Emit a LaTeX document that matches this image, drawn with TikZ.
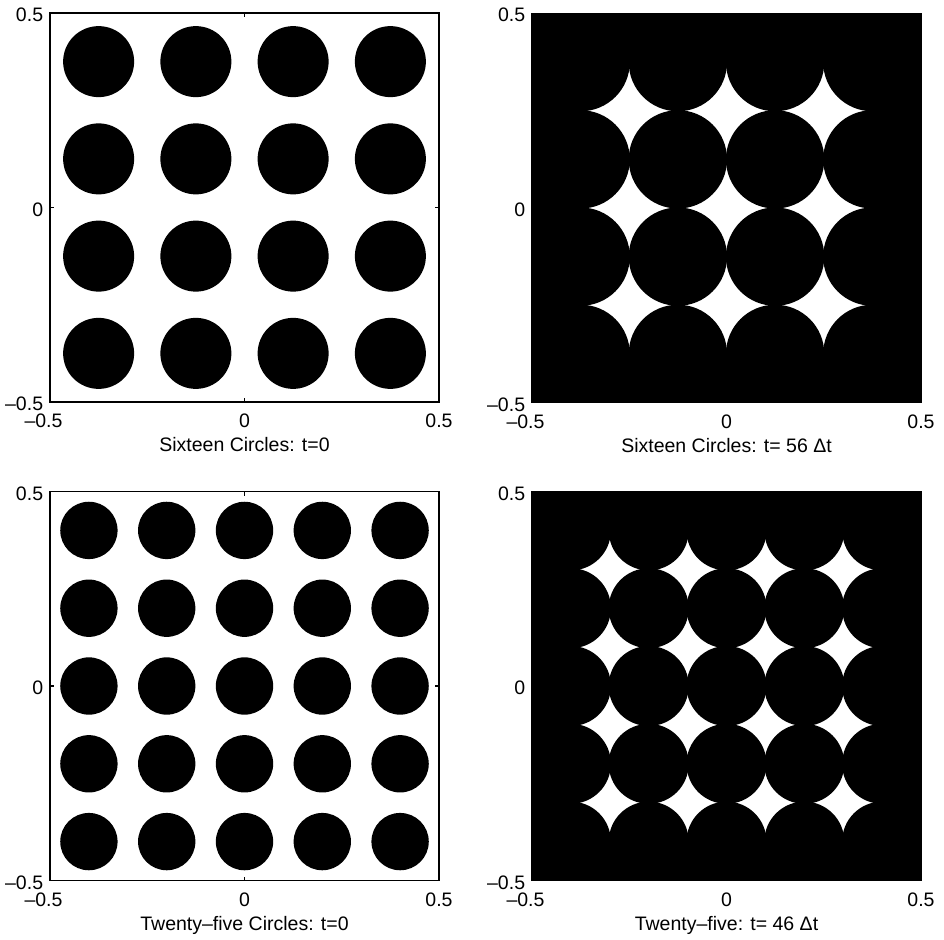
\documentclass[tikz,border=0pt]{standalone}
\usepackage{fontspec}
\setmainfont{Liberation Sans}
\begin{document}
\begin{tikzpicture}[x=1pt,y=1pt,
  lbl/.style={inner sep=0pt,font=\fontsize{19.5}{23}\selectfont},
  axbox/.style={line width=1.3pt,line join=miter},
  tick/.style={line width=1.1pt}]
\useasboundingbox (0,0) rectangle (944,-939);
% ---------- helper: axes labels and box ----------
\newcommand{\axlabels}[3]{% #1 = center x, #2 = center y (negative), #3 = prefix
  % y tick labels
  \node[lbl,anchor=base east] (#3yt) at (#1-201.2,#2+194.5-8.5) {0.5};
  \node[lbl,anchor=base east] (#3yz) at (#1-201.2,#2-8.5) {0};
  \node[lbl,anchor=base east] (#3yb) at (#1-201.2,#2-194.5-8.5) {–0.5};
  % x tick labels
  \node[lbl,anchor=base east] (#3xl) at (#1-181.8,#2-194.5-25.8) {–0.5};
  \node[lbl,anchor=base] (#3xz) at (#1,#2-194.5-25.8) {0};
  \node[lbl,anchor=base] (#3xr) at (#1+194.5,#2-194.5-25.8) {0.5};
}
\newcommand{\axframe}[2]{%
  \draw[axbox] (#1-194.5,#2-194.5) rectangle (#1+194.5,#2+194.5);
  \draw[tick] (#1,#2-194.5) -- ++(0,4) (#1,#2+194.5) -- ++(0,-4)
              (#1-194.5,#2) -- ++(4,0) (#1+194.5,#2) -- ++(-4,0);
}
% ================= Panel 1 =================
\begin{scope}[shift={(244.5pt,-207.5pt)},x=389pt,y=389pt]
  \clip (-0.5,-0.5) rectangle (0.5,0.5);
  \foreach \i in {-0.375,-0.125,0.125,0.375}
    \foreach \j in {-0.375,-0.125,0.125,0.375}
      \fill[black] (\i,\j) circle (0.0913);
\end{scope}
\axframe{244.5}{-207.5}
\axlabels{244.5}{-207.5}{a}
\node[lbl,anchor=base] (atitle) at (244.5,-451.5) {Sixteen Circles: t=0};
% ================= Panel 2 =================
\begin{scope}[shift={(726.5pt,-208pt)},x=389pt,y=389pt]
  \clip (-0.5,-0.5) rectangle (0.5,0.5);
  \fill[black] (-0.5,-0.5) rectangle (0.5,0.5);
  \fill[white] (-0.375,-0.375) rectangle (0.375,0.375);
  \foreach \i in {-0.375,-0.125,0.125,0.375}
    \foreach \j in {-0.375,-0.125,0.125,0.375}
      \fill[black] (\i,\j) circle (0.1264);
\end{scope}
\axframe{726.5}{-208}
\axlabels{726.5}{-208}{b}
\node[lbl,anchor=base] (btitle) at (726.5,-452) {Sixteen Circles: t= 56 Δt};
% ================= Panel 3 =================
\begin{scope}[shift={(244.5pt,-686pt)},x=389pt,y=389pt]
  \clip (-0.5,-0.5) rectangle (0.5,0.5);
  \foreach \i in {-0.4,-0.2,0,0.2,0.4}
    \foreach \j in {-0.4,-0.2,0,0.2,0.4}
      \fill[black] (\i,\j) circle (0.0737);
\end{scope}
\axframe{244.5}{-686}
\axlabels{244.5}{-686}{c}
\node[lbl,anchor=base] (ctitle) at (244.5,-930) {Twenty–five Circles: t=0};
% ================= Panel 4 =================
\begin{scope}[shift={(726.5pt,-686pt)},x=389pt,y=389pt]
  \clip (-0.5,-0.5) rectangle (0.5,0.5);
  \fill[black] (-0.5,-0.5) rectangle (0.5,0.5);
  \fill[white] (-0.4,-0.4) rectangle (0.4,0.4);
  \foreach \i in {-0.4,-0.2,0,0.2,0.4}
    \foreach \j in {-0.4,-0.2,0,0.2,0.4}
      \fill[black] (\i,\j) circle (0.1028);
\end{scope}
\axframe{726.5}{-686}
\axlabels{726.5}{-686}{d}
\node[lbl,anchor=base] (dtitle) at (726.5,-930) {Twenty–five: t= 46 Δt};
\end{tikzpicture}
\end{document}
